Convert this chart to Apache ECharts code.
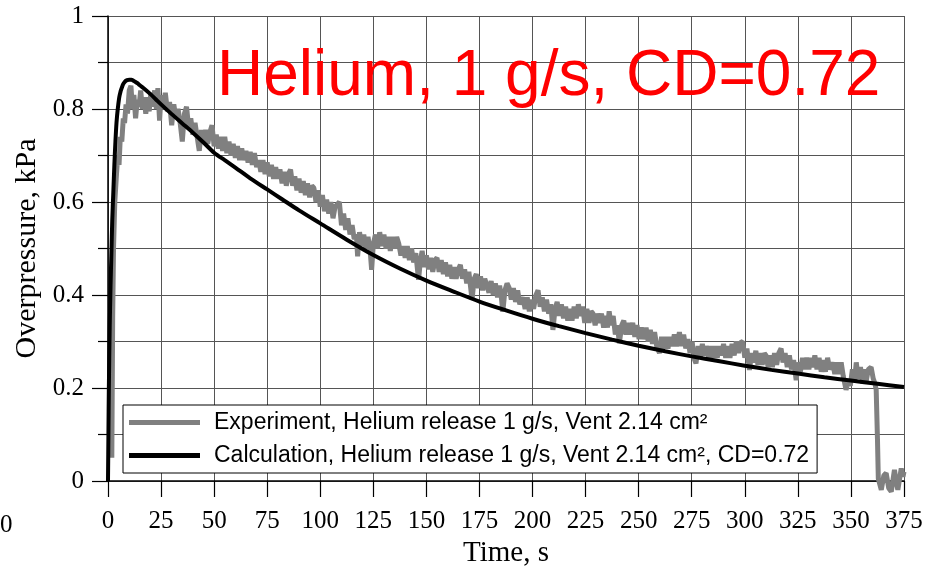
<!DOCTYPE html>
<html>
<head>
<meta charset="utf-8">
<script src="https://cdn.jsdelivr.net/npm/echarts@6/dist/echarts.min.js"></script>
<style>html,body{margin:0;padding:0;background:#fff;}#c{width:936px;height:568px;}</style>
</head>
<body>
<div id="c"></div>
<script>
const titleText = 'Helium, 1 g/s, CD=0.72';
const xName = 'Time, s';
const yName = 'Overpressure, kPa';
const seriesNames = ['Experiment, Helium release 1 g/s, Vent 2.14 cm²', 'Calculation, Helium release 1 g/s, Vent 2.14 cm², CD=0.72'];
const xTicks = {min: 0, max: 375, step: 25};
const yTicks = {min: 0, max: 1, step: 0.2};

// [time s, overpressure kPa]
const experimentPoints = [
[1.8,0.05],[2.2,0.35],[2.6,0.5],[3.2,0.6],[4,0.66],[4.6,0.7],[5.2,0.68],[5.8,0.74],[6.5,0.73],[7.2,0.78],[7.8,0.77],[8.5,0.81],[9.2,0.79],[10,0.84],[10.8,0.85],[11.5,0.8],[12.2,0.83],[13,0.78],[13.8,0.82],[14.6,0.805],[15.4,0.84],[16.2,0.8],[17,0.825],[17.8,0.79],[18.6,0.825],[19.4,0.795],[20.2,0.835],[21,0.805],[22,0.84],[22.8,0.8],[23.5,0.845],[24.3,0.775],
[25,0.83],[26,0.8],[27,0.835],[28,0.795],[29,0.815],[30,0.765],[31,0.81],[32,0.78],[33,0.8],[34,0.77],[35,0.73],[36,0.79],[37,0.805],[38,0.76],[39,0.78],[40,0.745],[41,0.77],[42,0.74],[43,0.71],[44,0.755],[45,0.73],[46,0.755],[47,0.725],[48,0.75],[49,0.765],[50,0.72],[51,0.745],[52,0.715],[53,0.74],[54,0.71],[55,0.74],[56,0.705],[57,0.73],[58,0.7],[59,0.725],[60,0.695],[61,0.72],[62,0.69],[63,0.715],[64,0.69],[65,0.71],[66,0.685],[67,0.708],[68,0.68],[69,0.705],[70,0.675],[71,0.69],[72,0.665],[73,0.69],[74,0.66],[75,0.685],[76,0.655],[77,0.68],[78,0.65],[79,0.675],[80,0.65],[81,0.67],[82,0.64],[83,0.665],[84,0.635],[85,0.66],[86,0.67],[87,0.635],[88,0.655],[89,0.625],[90,0.65],[91,0.62],[92,0.645],[93,0.615],[94,0.64],[95,0.61],[96,0.635],[97,0.63],[98,0.6],[99,0.625],[100,0.59],[101,0.615],[102,0.58],[103,0.605],[104,0.575],[105,0.6],[106,0.565],[107,0.59],[108,0.595],[109,0.6],[110,0.55],[111,0.575],[112,0.54],[113,0.565],[114,0.53],[115,0.55],[116,0.52],[117,0.53],[117.6,0.483],[118.5,0.535],[119.5,0.505],[120.5,0.53],[121.5,0.5],[122.5,0.525],[123.5,0.495],[124.2,0.454],[125,0.51],[126,0.53],[127,0.5],[128,0.535],[129,0.505],[130,0.53],[131,0.5],[132,0.525],[133,0.495],[134,0.525],[135,0.5],[136,0.525],[137,0.51],[138,0.485],[139,0.505],[140,0.48],[141,0.505],[142,0.475],[143,0.5],[144,0.47],[145,0.49],[146.3,0.433],[147.2,0.475],[148,0.495],[149,0.46],[150,0.485],[151,0.455],[152,0.48],[153,0.45],[154,0.475],[155,0.48],[156,0.45],[157,0.475],[158,0.445],[159,0.47],[160,0.44],[161,0.465],[162,0.435],[163,0.46],[164,0.435],[165,0.455],[166,0.465],[167,0.435],[168,0.455],[169,0.425],[170,0.45],[171.5,0.39],[172.5,0.435],[173.5,0.445],[174.5,0.415],[175.5,0.44],[176.5,0.41],[177.5,0.435],[178.5,0.42],[179.5,0.405],[180.5,0.43],[181.5,0.4],[182.5,0.425],[183.5,0.395],[184.5,0.42],[185.3,0.395],[186,0.364],[187,0.41],[188,0.425],[189,0.415],[190,0.39],[191,0.415],[192,0.385],[193,0.41],[194,0.38],[195.5,0.395],[196.5,0.37],[197.5,0.395],[198.5,0.365],[199.5,0.39],[200.5,0.37],[201.6,0.4],[202.6,0.41],[203.6,0.375],[204.6,0.395],[205.6,0.365],[206.6,0.39],[207.6,0.36],[208.6,0.38],[209.6,0.325],[210.6,0.37],[211.6,0.385],[212.6,0.355],[213.6,0.38],[214.6,0.35],[215.6,0.375],[216.6,0.345],[217.6,0.37],[218.6,0.345],[219.6,0.375],[220.6,0.35],[221.6,0.38],[222.6,0.355],[223.6,0.375],[224.6,0.34],[225.6,0.37],[226.6,0.34],[227.6,0.365],[228.5,0.36],[229.5,0.335],[230.5,0.36],[231.5,0.34],[232.5,0.36],[233.5,0.33],[234.5,0.355],[235.3,0.33],[236.1,0.365],[237,0.335],[238,0.355],[239,0.315],[240,0.335],[240.9,0.296],[242,0.335],[243,0.345],[244,0.315],[245,0.34],[246,0.315],[247.2,0.34],[248.2,0.31],[249.2,0.335],[250.2,0.305],[251.2,0.33],[252.2,0.305],[253.5,0.33],[254.5,0.3],[255.5,0.325],[256.5,0.295],[257.5,0.32],[258.5,0.29],[259.8,0.275],[260.8,0.31],[261.8,0.285],[262.8,0.31],[263.8,0.285],[264.8,0.31],[265.8,0.29],[266.8,0.315],[267.8,0.29],[269.2,0.32],[270.2,0.29],[271.2,0.315],[272.2,0.285],[273.2,0.305],[274.2,0.275],[275.2,0.3],[276,0.265],[277,0.253],[278,0.29],[279,0.265],[280,0.295],[281,0.27],[281.8,0.29],[283,0.265],[284,0.29],[285,0.265],[286,0.29],[287,0.265],[288,0.29],[289,0.27],[290,0.295],[291,0.265],[292,0.29],[293,0.265],[294,0.295],[295,0.27],[296,0.3],[297,0.275],[298,0.298],[299,0.3],[300,0.265],[301,0.285],[302.2,0.239],[303.2,0.275],[304.2,0.255],[305.2,0.28],[306.2,0.25],[307.2,0.275],[308.2,0.25],[309.2,0.275],[310,0.27],[311,0.245],[312,0.27],[313,0.245],[314,0.275],[315,0.25],[316,0.275],[317.1,0.285],[318,0.255],[319,0.275],[320,0.245],[321,0.27],[322,0.24],[323,0.26],[324.2,0.217],[325.2,0.255],[326.2,0.235],[327.2,0.265],[328.2,0.24],[329.2,0.265],[330.2,0.24],[331,0.265],[332,0.245],[333,0.27],[334,0.24],[335,0.265],[336,0.235],[337,0.26],[338,0.235],[339,0.265],[340,0.24],[341.4,0.255],[342.4,0.23],[343.4,0.255],[344.4,0.23],[345.4,0.255],[346.4,0.225],[347.7,0.196],[348.7,0.215],[349.7,0.205],[350.7,0.24],[351.7,0.215],[352.5,0.255],[353.5,0.22],[354.5,0.245],[355.5,0.21],[356.5,0.24],[357.2,0.215],[358.2,0.24],[359.5,0.245],[360.5,0.22],[361.3,0.21],[361.9,0.196],
[362.5,0.09],[362.9,0.005],[364.3,-0.019],[365.5,0.012],[366.6,0.017],[367.8,-0.015],[369,-0.023],[370.5,0.024],[371.3,0.0],[372.1,-0.019],[373.7,0.027],[374.5,0.009],[375,0.02]
];

const calculationPoints = [
[0,0],[0.2,0.1],[0.4,0.2],[0.8,0.33],[1.2,0.42],[1.6,0.49],[2,0.56],[2.5,0.62],[3,0.68],[3.5,0.73],[4,0.77],[4.6,0.8],[5.5,0.83],[7,0.852],[8,0.859],[9,0.862],[10,0.863],[11,0.863],[12,0.861],[13,0.858],[14,0.855],[15,0.851],[17.5,0.842],[20,0.832],[22.5,0.821],[25,0.81],[30,0.789],[35,0.769],[40,0.749],[45,0.728],[50,0.706],[55,0.69],[60,0.674],[67,0.651],[75,0.627],[82,0.606],[90,0.582],[100,0.554],[112.5,0.519],[125,0.486],[137.5,0.457],[150,0.431],[162.5,0.408],[175,0.386],[187.5,0.367],[200,0.349],[212.5,0.333],[225,0.318],[237.5,0.304],[250,0.291],[262.5,0.279],[275,0.268],[287.5,0.258],[300,0.248],[312.5,0.239],[325,0.231],[337.5,0.223],[350,0.216],[362.5,0.209],[375,0.202]
];

const SERIF = '"Liberation Serif", "Times New Roman", serif';
const SANS = '"Liberation Sans", Arial, sans-serif';
const gridColor = '#555';

const chart = echarts.init(document.getElementById('c'), null, {renderer: 'canvas'});
chart.setOption({
  animation: false,
  backgroundColor: '#fff',
  grid: {left: 108, right: 32, top: 16, bottom: 87, containLabel: false, outerBoundsMode: 'none'},
  xAxis: {
    type: 'value', min: xTicks.min, max: xTicks.max, interval: xTicks.step,
    name: xName, nameLocation: 'middle', nameGap: 52,
    nameTextStyle: {fontFamily: SERIF, fontSize: 29, color: '#000'},
    axisLine: {show: true, onZero: false, lineStyle: {color: '#000', width: 1.5}},
    axisTick: {show: true, inside: false, length: 16, lineStyle: {color: '#000', width: 1.2}},
    axisLabel: {fontFamily: SERIF, fontSize: 25, color: '#000', margin: 28},
    splitLine: {show: true, lineStyle: {color: gridColor, width: 1}}
  },
  yAxis: {
    type: 'value', min: yTicks.min, max: yTicks.max, interval: yTicks.step,
    name: yName, nameLocation: 'middle', nameGap: 64, nameRotate: 90,
    nameTextStyle: {fontFamily: SERIF, fontSize: 30, color: '#000'},
    axisLine: {show: true, onZero: false, lineStyle: {color: '#000', width: 1.5}},
    axisTick: {show: true, inside: false, length: 16, lineStyle: {color: '#000', width: 1.2}},
    minorTick: {show: true, splitNumber: 2, length: 10, lineStyle: {color: '#000', width: 1.2}},
    minorSplitLine: {show: true, lineStyle: {color: gridColor, width: 1}},
    axisLabel: {fontFamily: SERIF, fontSize: 25, color: '#000', margin: 24},
    splitLine: {show: true, lineStyle: {color: gridColor, width: 1}}
  },
  legend: {
    orient: 'vertical', left: 123, top: 405,
    backgroundColor: '#fff', borderColor: '#000', borderWidth: 1,
    padding: [6, 8, 6, 6], itemGap: 10, itemWidth: 71, itemHeight: 5, icon: 'rect',
    textStyle: {fontFamily: SANS, fontSize: 23, color: '#000', padding: [0, 0, 0, 9]},
    data: seriesNames
  },
  graphic: [
    {type: 'text', left: 217, top: 45, z: 100,
     style: {text: titleText, fill: '#ff0000', font: '64px ' + SANS}},
    {type: 'text', left: 0, top: 513,
     style: {text: '0', fill: '#000', font: '25px ' + SERIF}}
  ],
  series: [
    {name: seriesNames[0], type: 'line', data: experimentPoints, showSymbol: false, symbol: 'none',
     clip: false, lineStyle: {color: '#808080', width: 5}, itemStyle: {color: '#808080'}, z: 2},
    {name: seriesNames[1], type: 'line', data: calculationPoints, showSymbol: false, symbol: 'none',
     smooth: 0.3, clip: false, lineStyle: {color: '#000', width: 4}, itemStyle: {color: '#000'}, z: 3}
  ]
});
</script>
</body>
</html>
